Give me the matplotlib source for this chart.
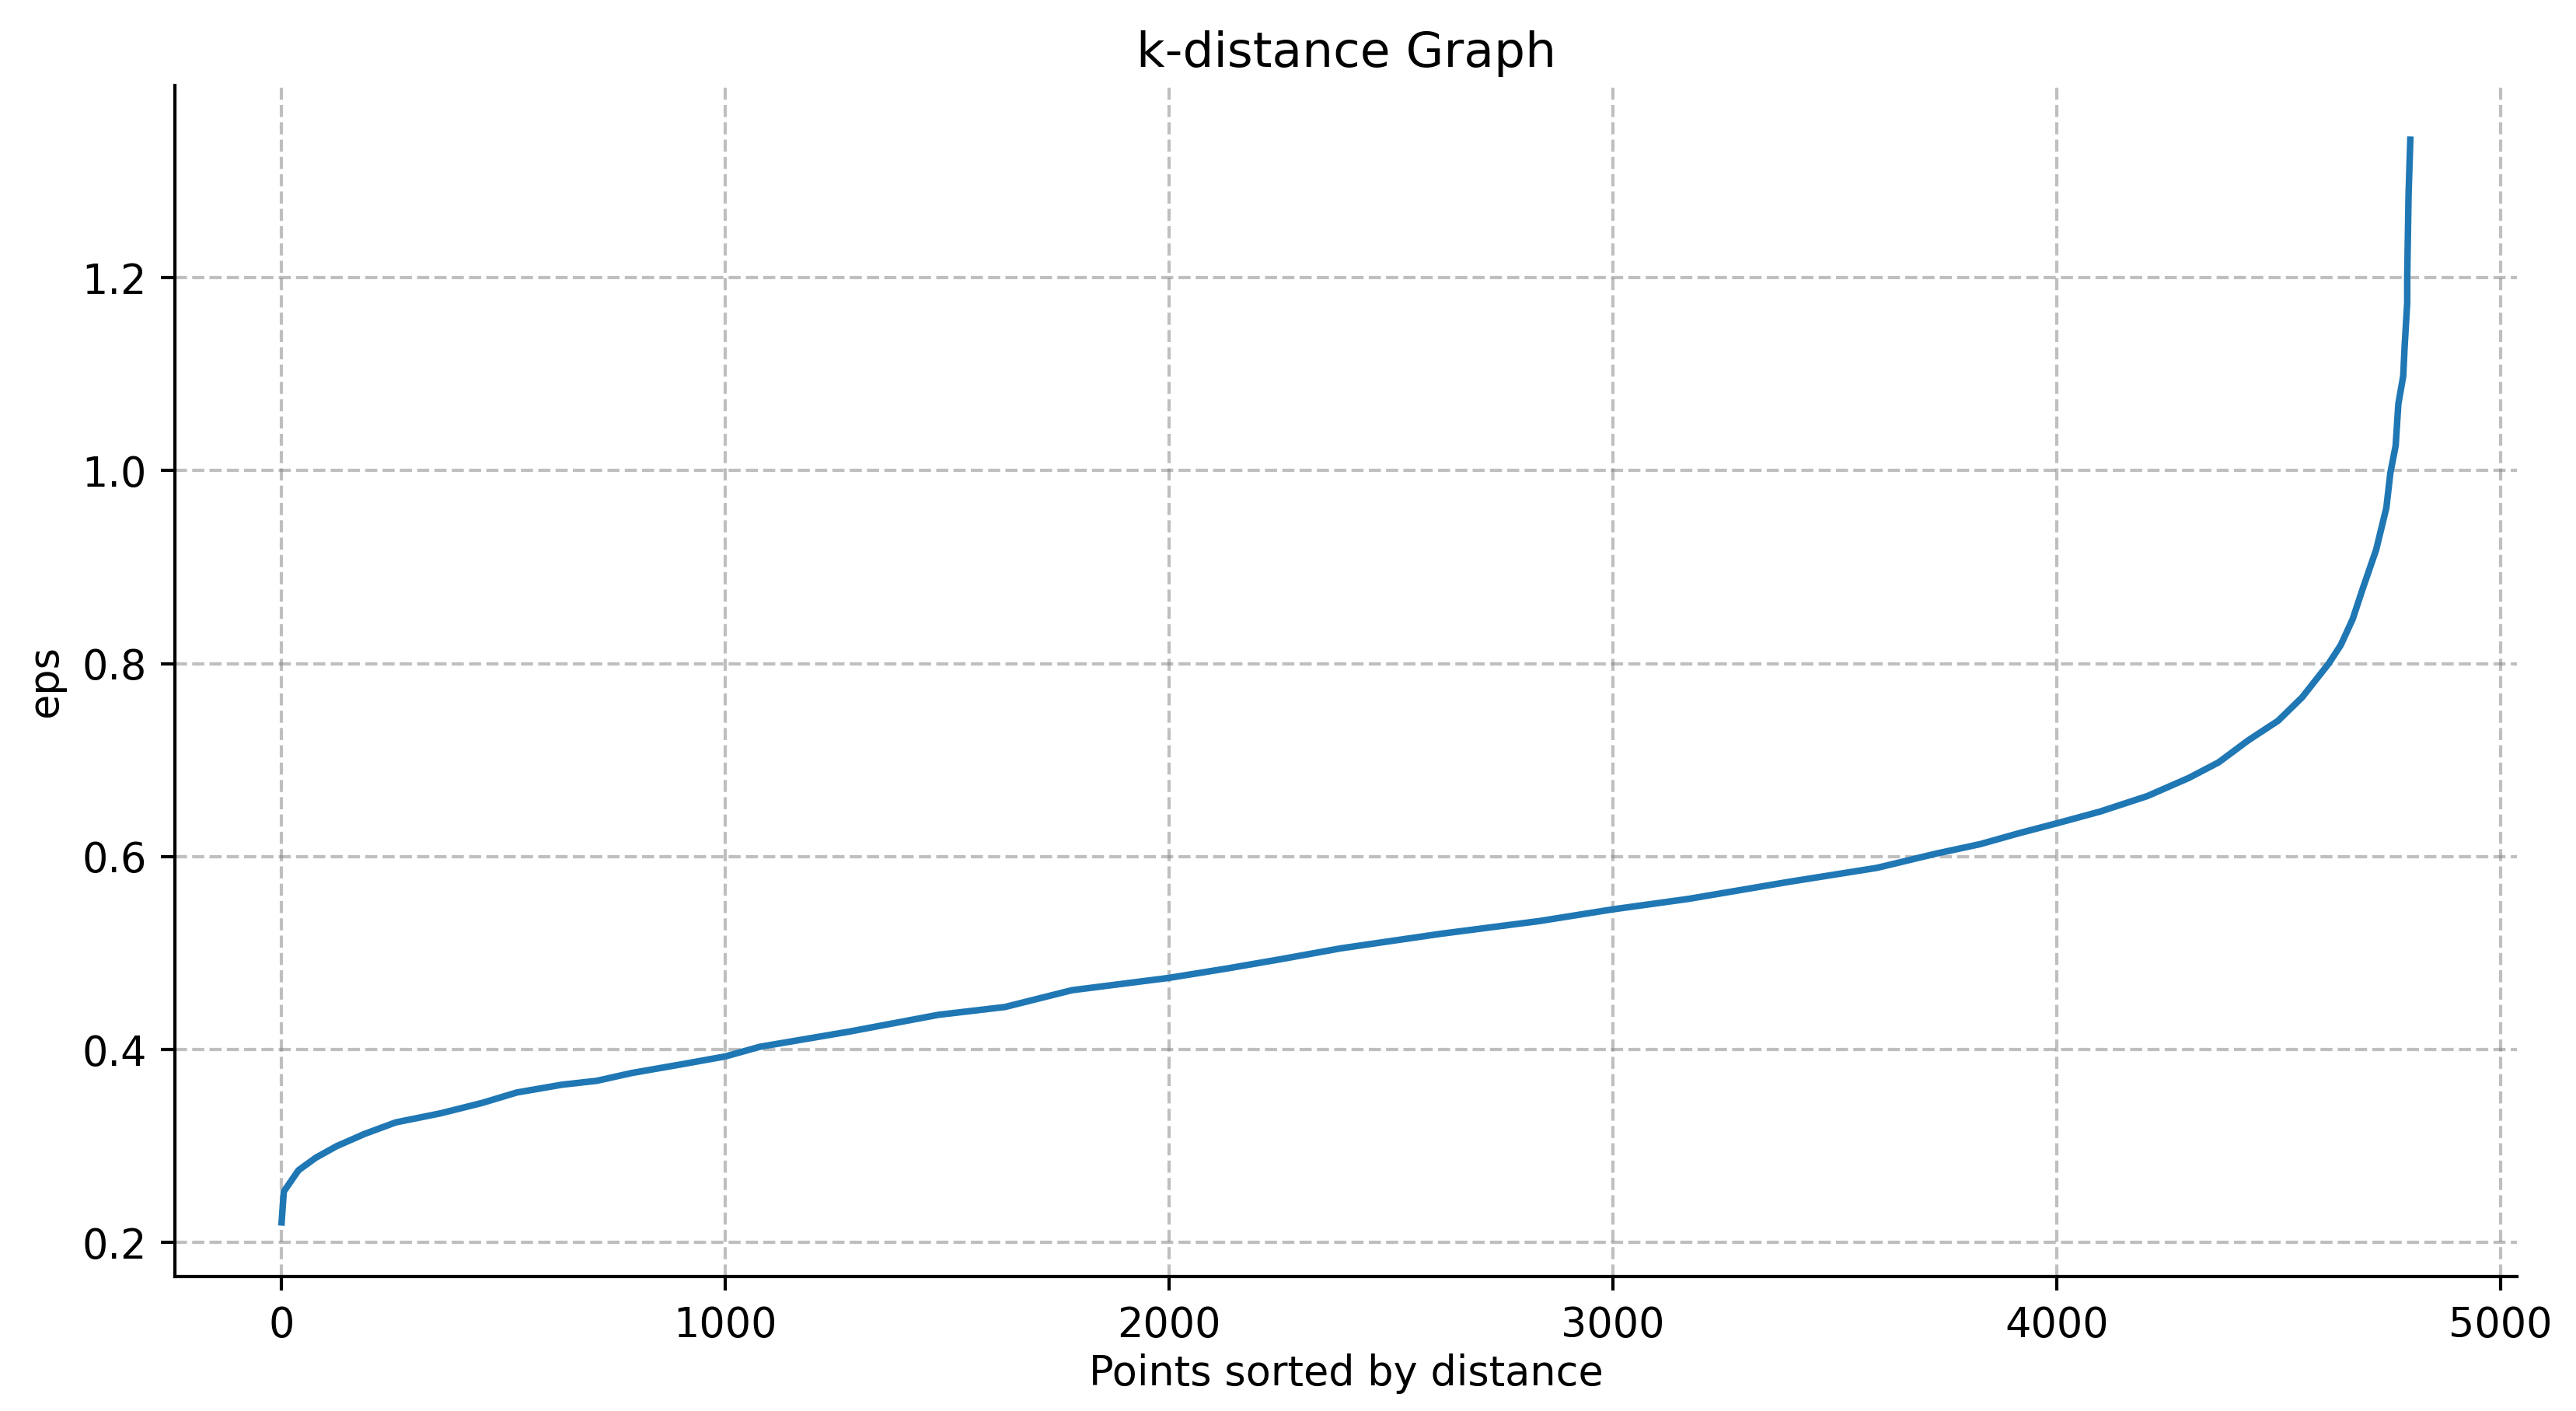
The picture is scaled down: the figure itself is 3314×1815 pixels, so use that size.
import numpy as np
import matplotlib
matplotlib.use('Agg')
import matplotlib.pyplot as plt

# points (rank of point, distance to k-th neighbour)
rank = [0, 5, 38, 77, 124, 186, 257, 358, 452, 530, 632, 710, 789, 906,
        1000, 1078, 1279, 1480, 1630, 1781, 2000, 2133, 2251, 2387, 2611,
        2835, 3000, 3170, 3394, 3595, 3729, 3828, 3917, 4000, 4097, 4204,
        4298, 4365, 4432, 4499, 4553, 4613, 4640, 4667, 4690, 4720, 4743,
        4752, 4764, 4770, 4781, 4784, 4790, 4790, 4793, 4797]
eps = [0.221, 0.253, 0.275, 0.288, 0.300, 0.3125, 0.3246, 0.334, 0.3448,
       0.3556, 0.3637, 0.3677, 0.3758, 0.3852, 0.393, 0.403, 0.4187, 0.4361,
       0.4442, 0.4616, 0.4744, 0.4843, 0.4937, 0.505, 0.520, 0.5333, 0.5454,
       0.5562, 0.5737, 0.5884, 0.6032, 0.613, 0.6245, 0.6345, 0.6466, 0.6627,
       0.6816, 0.6977, 0.7206, 0.7408, 0.765, 0.800, 0.819, 0.846, 0.878,
       0.918, 0.9615, 0.9975, 1.026, 1.069, 1.098, 1.127, 1.174, 1.200,
       1.285, 1.343]

dpi = 378
fig, ax = plt.subplots(figsize=(3314/dpi, 1815/dpi), dpi=dpi)
fig.subplots_adjust(left=0.068, right=0.977, bottom=0.0953, top=0.9394)

ax.plot(rank, eps, color='#1f77b4', lw=1.6)
ax.set_title('k-distance Graph', pad=4.5)
ax.set_xlabel('Points sorted by distance', labelpad=2)
ax.set_ylabel('eps')
ax.grid(True, ls='--', color='gray', alpha=0.5, lw=0.8)
ax.spines['top'].set_visible(False)
ax.spines['right'].set_visible(False)

fig.savefig('out.png', dpi=dpi)
